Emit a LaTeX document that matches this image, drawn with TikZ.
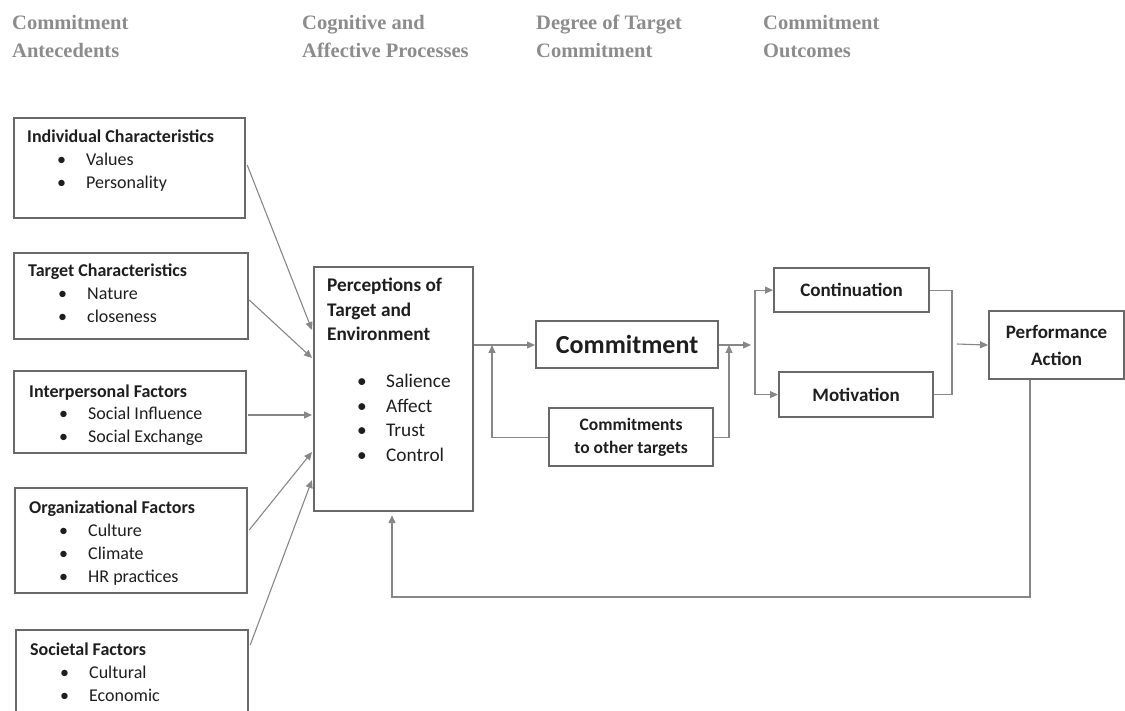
\documentclass[tikz,border=0pt]{standalone}
\usepackage{fontspec}
\setmainfont{Carlito}
\newfontfamily\hdrfont{Liberation Serif}
\usetikzlibrary{arrows.meta,calc}
\definecolor{boxc}{RGB}{105,105,105}
\definecolor{arrc}{RGB}{135,135,135}
\definecolor{txtc}{RGB}{30,30,30}
\definecolor{hdrc}{RGB}{140,140,140}
\newcommand\bitem[1]{\hspace*{30pt}\makebox[29pt][l]{\textbullet}#1}
\newcommand\toplines[1]{\begin{tabular}[t]{@{}l@{}}#1\end{tabular}}
\begin{document}
\begin{tikzpicture}[x=1pt,y=-1pt,
  box/.style={draw=boxc, line width=2.2pt, inner sep=0pt, anchor=north west},
  txt/.style={anchor=base west, inner sep=0pt, text=txtc, font=\fontsize{18}{23}\selectfont},
  ptxt/.style={anchor=base west, inner sep=0pt, text=txtc, font=\fontsize{19.3}{24.5}\selectfont},
  ctxt/.style={align=center, inner sep=0pt, text=txtc, font=\bfseries\fontsize{19}{27}\selectfont},
  hdr/.style={anchor=base west, inner sep=0pt, text=hdrc, font=\hdrfont\bfseries\fontsize{20.5}{27.5}\selectfont},
  arr/.style={draw=arrc, line width=1.1pt, -{Triangle[length=8pt,width=7pt]}},
  ln/.style={draw=arrc, line width=1.1pt}]
\path[use as bounding box] (0,0) rectangle (1125,711);
\clip (0,0) rectangle (1125,711);

% headers
\node[hdr] (h1) at (12,30) {\toplines{Commitment\\Antecedents}};
\node[hdr] (h2) at (302,30) {\toplines{Cognitive and\\Affective Processes}};
\node[hdr] (h3) at (536,30) {\toplines{Degree of Target\\Commitment}};
\node[hdr] (h4) at (763,30) {\toplines{Commitment\\Outcomes}};

% antecedent texts
\node[txt] (indT) at (27,143) {\toplines{\textbf{Individual Characteristics}\\\bitem{Values}\\\bitem{Personality}}};
\node[txt] (tarT) at (28,277) {\toplines{\textbf{Target Characteristics}\\\bitem{Nature}\\\bitem{closeness}}};
\node[txt] (intT) at (29,397) {\toplines{\textbf{Interpersonal Factors}\\\bitem{Social Influence}\\\bitem{Social Exchange}}};
\node[txt] (orgT) at (29,513) {\toplines{\textbf{Organizational Factors}\\\bitem{Culture}\\\bitem{Climate}\\\bitem{HR practices}}};
\node[txt] (socT) at (30,655) {\toplines{\textbf{Societal Factors}\\\bitem{Cultural}\\\bitem{Economic}}};

% antecedent boxes
\node[box, minimum width=231pt, minimum height=100pt] (ind) at (13,117) {};
\node[box, minimum width=234pt, minimum height=86pt] (tar) at (13,252) {};
\node[box, minimum width=232pt, minimum height=82pt] (int) at (13,370) {};
\node[box, minimum width=232pt, minimum height=105pt] (org) at (14,487) {};
\node[box, minimum width=232pt, minimum height=90pt] (soc) at (15,629) {};

% perceptions
\node[box, minimum width=159pt, minimum height=244pt] (perc) at (313,266) {};
\node[ptxt] (percT) at (327,292) {\toplines{\textbf{Perceptions of}\\\textbf{Target and}\\\textbf{Environment}}};
\node[ptxt] (percL) at (327,388) {\toplines{\bitem{Salience}\\\bitem{Affect}\\\bitem{Trust}\\\bitem{Control}}};

% commitment
\node[box, minimum width=182pt, minimum height=47pt] (comm) at (535,320) {};
\node[text=txtc, inner sep=0pt, font=\bfseries\fontsize{26}{30}\selectfont] (commT) at (comm.center) {Commitment};
\node[box, minimum width=164pt, minimum height=58pt] (oth) at (548,407) {};
\node[ctxt, font=\bfseries\fontsize{17.5}{23}\selectfont] (othT) at (oth.center) {Commitments\\to other targets};

% outcomes
\node[box, minimum width=155pt, minimum height=44pt] (cont) at (773,267) {};
\node[ctxt] (contT) at (cont.center) {Continuation};
\node[box, minimum width=154pt, minimum height=45pt] (mot) at (778,371) {};
\node[ctxt] (motT) at (mot.center) {Motivation};
\node[box, minimum width=135pt, minimum height=68pt] (perf) at (988,310) {};
\node[ctxt] (perfT) at (perf.center) {Performance\\Action};

% antecedent arrows
\draw[arr] ($(ind.north east)+(1,48)$) -- ($(perc.north west)+(-1,64)$);
\draw[arr] ($(tar.north east)+(0,48)$) -- ($(perc.north west)+(-1,92)$);
\draw[arr] ($(int.north east)+(1,45)$) -- ($(perc.north west)+(-1,149)$);
\draw[arr] ($(org.north east)+(1,43)$) -- ($(perc.north west)+(-1,186)$);
\draw[arr] ($(soc.north east)+(1,16)$) -- ($(perc.north west)+(-1,214)$);

% central arrows
\coordinate (j1) at (492,345);
\coordinate (j2) at (729,345);
\draw[arr] (perc.east |- j1) -- (comm.west |- j1);
\draw[arr] (oth.west) -| (j1);
\draw[arr] (oth.east) -| (j2);
\coordinate (sp) at (755,345);
\draw[arr] (comm.east |- sp) -- ($(sp)+(-4,0)$);
\draw[arr] (sp) |- (cont.west);
\draw[arr] (sp) |- (mot.west);
\coordinate (mg) at (952,340);
\draw[ln] (cont.east) -| (mg) |- (mot.east);
\coordinate (mo) at (957,344);
\draw[arr] (mo) -- (perf.west);

% feedback
\coordinate (fb) at (392,597);
\draw[arr] ($(perf.south west)+(42,0)$) |- (fb) -- ($(perc.south -| fb)+(0,3)$);
\end{tikzpicture}
\end{document}
